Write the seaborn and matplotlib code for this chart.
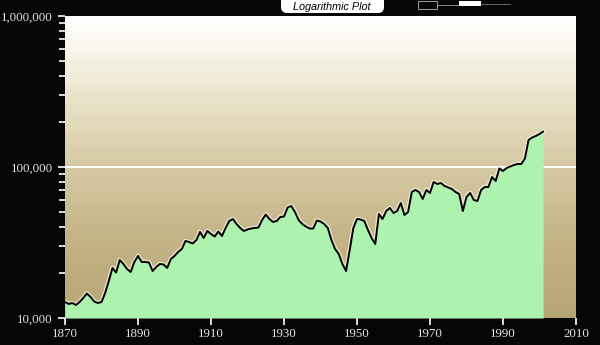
import numpy as np
import matplotlib
matplotlib.use("Agg")
import matplotlib.pyplot as plt
import seaborn as sns
from matplotlib.colors import LinearSegmentedColormap
from matplotlib.patches import FancyBboxPatch, Rectangle
from matplotlib.transforms import IdentityTransform
from matplotlib.ticker import FixedLocator, FixedFormatter, LogLocator, NullFormatter

# Annual series, 1870-2001
years = list(range(1870, 2002))
values = [
    12760, 12380, 12570, 12190, 12760, 13570, 14530, 13770, 12860, 12570,   # 1870s
    12760, 14640, 17580, 21440, 20010, 24220, 22790, 21110, 20170, 23490,   # 1880s
    25740, 23490, 23490, 23310, 20480, 21770, 22790, 22620, 21440, 24590,   # 1890s
    25740, 27360, 28640, 32360, 31870, 31150, 32860, 37120, 33870, 37690,   # 1900s
    36000, 34650, 37400, 34910, 39450, 43890, 45250, 41940, 39450, 37690,   # 1910s
    38560, 39150, 39450, 39750, 44570, 48460, 45250, 43230, 43890, 46650,   # 1920s
    47010, 53930, 55170, 50350, 44570, 41940, 40360, 39150, 39150, 44220,   # 1930s
    43560, 41940, 39450, 32860, 28640, 26540, 22790, 20480, 28200, 39450,   # 1940s
    45250, 44910, 43890, 38260, 33870, 30910, 48830, 45250, 51120, 53520,   # 1950s
    49590, 51120, 57750, 48100, 50350, 68310, 70430, 68310, 61390, 70430,   # 1960s
    67280, 79560, 77160, 78340, 74840, 73140, 71500, 68310, 66260, 51120,   # 1970s
    63290, 67280, 60460, 59540, 70430, 73700, 73700, 85850, 80780, 97740,   # 1980s
    94090, 98490, 100800, 103100, 104700, 104700, 113800, 151000, 156800, 160500,  # 1990s
    165400, 171800,                                                          # 2000-2001
]

x_ticks = [1870, 1890, 1910, 1930, 1950, 1970, 1990, 2010]
y_ticks = [10000, 100000, 1000000]
y_tick_labels = ["10,000", "100,000", "1,000,000"]
title = "Logarithmic Plot"

sns.set_theme(style="dark")
plt.rcParams["font.family"] = ["Liberation Serif", "DejaVu Serif"]

W, H = 600, 345
fig = plt.figure(figsize=(W / 100, H / 100), dpi=100, facecolor="#060606")
rect = [65 / W, 1 - 318 / H, 511 / W, 302 / H]

# Vertical cream-to-tan gradient behind the plot
bg = fig.add_axes(rect, zorder=0)
grad = LinearSegmentedColormap.from_list(
    "bg",
    [(0.0, "#b6a574"), (0.26, "#c3b386"), (0.5, "#d5c9a3"),
     (0.72, "#eae2c9"), (0.89, "#f8f5ea"), (1.0, "#ffffff")],
)
bg.imshow(np.linspace(0, 1, 512)[:, None], cmap=grad, origin="lower",
          aspect="auto", extent=[0, 1, 0, 1], interpolation="bilinear")
bg.set_axis_off()

ax = fig.add_axes(rect, zorder=1)
ax.patch.set_alpha(0)
ax.set_yscale("log")
ax.grid(False)

ax.axhline(100000, color="white", lw=1.4, zorder=1)

# Light halo under the line, covered below by the fill
ax.plot(years, values, color="#f6f0da", lw=3.4, alpha=0.75, zorder=1.5,
        solid_joinstyle="round")
ax.fill_between(years, 10000, values, color="#adf3af", lw=0, zorder=2)
sns.lineplot(x=years, y=values, ax=ax, color="black", lw=1.4, zorder=3)

ax.set_xlim(1870, 2010)
ax.set_ylim(10000, 1000000)
ax.set_xlabel("")
ax.set_ylabel("")
for s in ax.spines.values():
    s.set_visible(False)

ax.xaxis.set_major_locator(FixedLocator(x_ticks))
ax.xaxis.set_major_formatter(FixedFormatter([str(y) for y in x_ticks]))
ax.yaxis.set_major_locator(FixedLocator(y_ticks))
ax.yaxis.set_major_formatter(FixedFormatter(y_tick_labels))
ax.yaxis.set_minor_locator(LogLocator(base=10, subs=np.arange(2, 10)))
ax.yaxis.set_minor_formatter(NullFormatter())

tick_col = "#ececec"
ax.tick_params(axis="x", which="major", direction="out", length=5, width=1.3,
               color=tick_col, labelcolor="#e4e4e4", labelsize=9.3, pad=2,
               bottom=True)
ax.tick_params(axis="y", which="major", direction="out", length=5, width=1.3,
               color=tick_col, labelcolor="#e4e4e4", labelsize=9.3, pad=4,
               left=True)
ax.tick_params(axis="y", which="minor", direction="out", length=4, width=1.3,
               color=tick_col, left=True)

# Title tab at the top
tab = FancyBboxPatch((281, H - 13), 103, 30,
                     boxstyle="round,pad=0,rounding_size=6",
                     transform=IdentityTransform(), facecolor="white",
                     edgecolor="none", zorder=5)
fig.add_artist(tab)
fig.text(332 / W, 1 - 6.5 / H, title, ha="center", va="center",
         fontsize=7.8, fontstyle="italic", fontweight="medium", color="black",
         family=["Liberation Sans", "DejaVu Sans"], zorder=6)

# Small logo mark at top right
logo = [
    Rectangle((418, H - 9), 19, 8, fill=False, edgecolor="#bbbbbb", lw=0.6),
    Rectangle((459, H - 6), 22, 5, facecolor="white", edgecolor="none"),
]
for p in logo:
    p.set_transform(IdentityTransform())
    fig.add_artist(p)
fig.add_artist(plt.Line2D([437, 459], [H - 5, H - 5], color="#999999", lw=0.6,
                          transform=IdentityTransform()))
fig.add_artist(plt.Line2D([481, 510], [H - 4, H - 4], color="#777777", lw=0.6,
                          transform=IdentityTransform()))

fig.savefig("out.png", dpi=100, facecolor=fig.get_facecolor())
